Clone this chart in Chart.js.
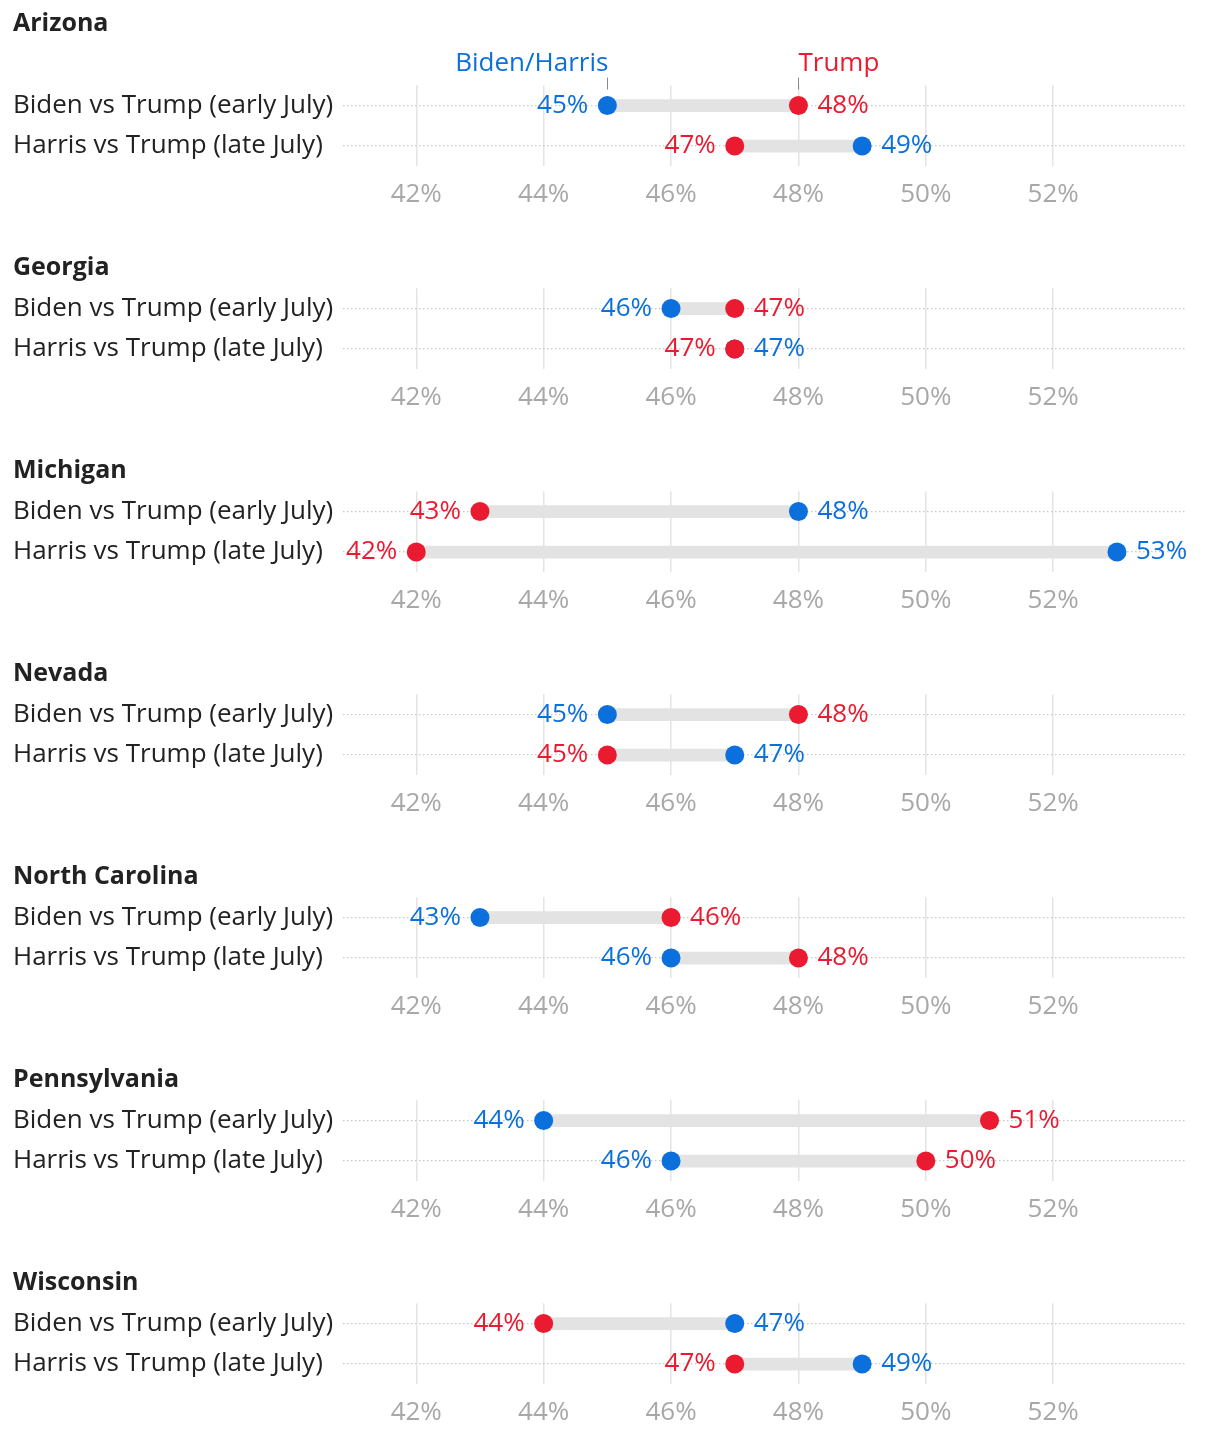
<!DOCTYPE html>
<html>
<head>
<meta charset="utf-8">
<script src="https://cdn.jsdelivr.net/npm/chart.js@4"></script>
<style>
  body { margin: 0; background: #fff; }
  .panel { position: relative; width: 1220px; }
</style>
</head>
<body>
<div id="panels"></div>
<script>
// Données
const states = ['Arizona', 'Georgia', 'Michigan', 'Nevada', 'North Carolina', 'Pennsylvania', 'Wisconsin'];
const rowLabels = ['Biden vs Trump (early July)', 'Harris vs Trump (late July)'];
const bidenHarris = [[45, 49], [46, 47], [48, 53], [45, 47], [43, 46], [44, 46], [47, 49]];
const trump = [[48, 47], [47, 47], [43, 42], [48, 45], [46, 48], [51, 50], [44, 47]];
const tickValues = [42, 44, 46, 48, 50, 52];
const seriesNames = ['Biden/Harris', 'Trump'];

const BLUE = '#0b70db';
const RED = '#ea1b30';
const FONT = '"Open Sans"';
const SIZE = 26;

// Étiquettes de valeur à gauche / droite des points
const valueLabels = {
    id: 'valueLabels',
    afterDatasetsDraw(chart) {
        const ctx = chart.ctx;
        const red = chart.getDatasetMeta(0);
        const blue = chart.getDatasetMeta(1);
        const rv = chart.data.datasets[0].data;
        const bv = chart.data.datasets[1].data;
        ctx.save();
        ctx.font = SIZE + 'px ' + FONT;
        ctx.textBaseline = 'middle';
        for (let i = 0; i < rv.length; i++) {
            const rp = red.data[i], bp = blue.data[i];
            let left, right, lc, rc, lv, rvv;
            if (bv[i] < rv[i]) {
                left = bp; right = rp; lc = BLUE; rc = RED; lv = bv[i]; rvv = rv[i];
            } else {
                left = rp; right = bp; lc = RED; rc = BLUE; lv = rv[i]; rvv = bv[i];
            }
            ctx.textAlign = 'right';
            ctx.fillStyle = lc;
            ctx.fillText(lv + '%', left.x - 19, left.y);
            ctx.textAlign = 'left';
            ctx.fillStyle = rc;
            ctx.fillText(rvv + '%', right.x + 19, right.y);
        }
        // Légende annotée (premier panneau seulement)
        if (chart.options.plugins.valueLabels.annotate) {
            const bp = blue.data[0], rp = red.data[0];
            ctx.strokeStyle = '#8a8a8a';
            ctx.lineWidth = 1;
            [bp, rp].forEach(p => {
                ctx.beginPath();
                ctx.moveTo(Math.round(p.x) + 0.5, p.y - 28);
                ctx.lineTo(Math.round(p.x) + 0.5, p.y - 16);
                ctx.stroke();
            });
            ctx.textAlign = 'right';
            ctx.fillStyle = BLUE;
            ctx.fillText(seriesNames[0], bp.x + 1, bp.y - 42);
            ctx.textAlign = 'left';
            ctx.fillStyle = RED;
            ctx.fillText(seriesNames[1], rp.x, rp.y - 42);
        }
        ctx.restore();
    }
};

const container = document.getElementById('panels');

states.forEach((state, s) => {
    const first = s === 0;
    const div = document.createElement('div');
    div.className = 'panel';
    div.style.height = (first ? 244 : 203) + 'px';
    const canvas = document.createElement('canvas');
    div.appendChild(canvas);
    container.appendChild(div);

    new Chart(canvas.getContext('2d'), {
        type: 'bar',
        data: {
            labels: rowLabels,
            datasets: [
                {
                    type: 'line',
                    label: seriesNames[1],
                    data: trump[s],
                    showLine: false,
                    pointRadius: 9.5,
                    pointBorderWidth: 0,
                    pointBackgroundColor: RED,
                    borderColor: RED,
                    order: 0
                },
                {
                    type: 'line',
                    label: seriesNames[0],
                    data: bidenHarris[s],
                    showLine: false,
                    pointRadius: 9.5,
                    pointBorderWidth: 0,
                    pointBackgroundColor: BLUE,
                    borderColor: BLUE,
                    order: 1
                },
                {
                    type: 'bar',
                    label: 'gap',
                    data: bidenHarris[s].map((v, i) => [v, trump[s][i]]),
                    backgroundColor: '#e3e3e3',
                    barThickness: 12,
                    borderSkipped: false,
                    order: 2
                }
            ]
        },
        options: {
            indexAxis: 'y',
            responsive: true,
            maintainAspectRatio: false,
            animation: false,
            events: [],
            layout: { padding: { left: 13, right: 33, top: 0, bottom: 21.7 } },
            plugins: {
                legend: { display: false },
                tooltip: { enabled: false },
                title: {
                    display: true,
                    text: state,
                    align: 'start',
                    color: '#222',
                    font: { family: FONT, size: 25, weight: 'bold' },
                    padding: { top: 8.4, bottom: first ? 46.9 : 5.9 }
                },
                valueLabels: { annotate: first }
            },
            scales: {
                x: {
                    type: 'linear',
                    min: 40.85,
                    max: 54.1,
                    afterBuildTicks: scale => {
                        scale.ticks = tickValues.map(v => ({ value: v }));
                    },
                    border: { display: false },
                    grid: { color: '#e4e4e4', lineWidth: 1.5, drawTicks: false },
                    ticks: {
                        color: '#a8a8a8',
                        padding: 12.4,
                        font: { family: FONT, size: SIZE },
                        callback: v => v + '%'
                    }
                },
                y: {
                    type: 'category',
                    afterFit: scale => { scale.width = 330; },
                    border: { display: false, dash: [1.5, 2.5] },
                    grid: {
                        offset: false,
                        drawTicks: false,
                        color: '#c8c8c8',
                        lineWidth: 1.2
                    },
                    ticks: {
                        crossAlign: 'far',
                        color: '#222',
                        font: { family: FONT, size: SIZE }
                    }
                }
            }
        },
        plugins: [valueLabels]
    });
});
</script>
</body>
</html>
